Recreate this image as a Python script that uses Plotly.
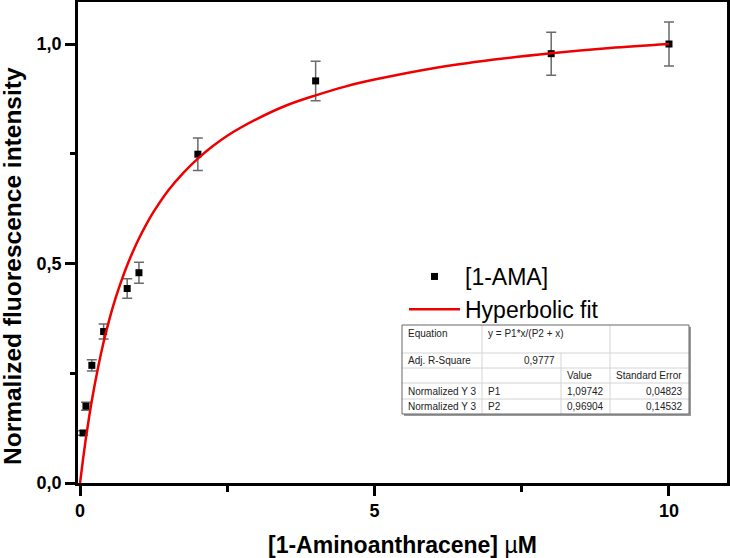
import plotly.graph_objects as go

# --- data ---
conc_um = [0.05, 0.1, 0.2, 0.4, 0.8, 1.0, 2.0, 4.0, 8.0, 10.0]
norm_intensity = [0.114, 0.175, 0.268, 0.345, 0.443, 0.479, 0.749, 0.916, 0.978, 1.0]
norm_err = [0.005, 0.009, 0.013, 0.017, 0.022, 0.024, 0.037, 0.045, 0.049, 0.05]

# hyperbolic fit curve as drawn in the picture
fit_x = [0, 0.05, 0.1, 0.15, 0.2, 0.3, 0.4, 0.5, 0.6, 0.7, 0.8, 0.9, 1.0, 1.1,
         1.25, 1.5, 1.75, 2.0, 2.25, 2.5, 3.0, 3.5, 4.0, 4.5, 5.0, 6.0, 7.0,
         8.0, 9.0, 10.0]
fit_y = [0, 0.054, 0.103, 0.147, 0.188, 0.259, 0.321, 0.374, 0.420, 0.460,
         0.496, 0.528, 0.557, 0.583, 0.618, 0.667, 0.706, 0.739, 0.767, 0.791,
         0.829, 0.860, 0.883, 0.903, 0.919, 0.945, 0.964, 0.979, 0.991, 1.0]

x_ticks = [0, 5, 10]
y_ticks = [0.0, 0.5, 1.0]

# fit result table (Origin style)
table_rows = [
    ["Equation", "y = P1*x/(P2 + x)", "", ""],
    ["Adj. R-Square", "0,9777", "", ""],
    ["", "", "Value", "Standard Error"],
    ["Normalized Y 3", "P1", "1,09742", "0,04823"],
    ["Normalized Y 3", "P2", "0,96904", "0,14532"],
]

FONT = "Liberation Sans, Arial, sans-serif"
W, H = 730, 558
L, R, T, B = 78, 3, 2, 75
PW, PH = W - L - R, H - T - B


def px(xp):
    return (xp - L) / PW


def py(yp):
    return (H - B - yp) / PH


fig = go.Figure()

fig.add_trace(go.Scatter(
    x=conc_um, y=norm_intensity, mode="markers", name="[1-AMA]",
    marker=dict(symbol="square", size=7, color="black"),
    error_y=dict(type="data", array=norm_err, color="#6a6a6a",
                 thickness=1.5, width=5),
))
fig.add_trace(go.Scatter(
    x=fit_x, y=fit_y, mode="lines", name="Hyperbolic fit",
    line=dict(color="#ee0000", width=2.5, shape="spline", smoothing=1.0),
))

# --- fit table drawn with shapes + annotations ---
col_edges = [402, 482, 561, 610, 689]
row_edges = [325, 353, 368, 383, 399, 414]
shapes = []
annotations = []

# shadow + background
shapes.append(dict(type="rect", xref="paper", yref="paper",
                   x0=px(col_edges[0] + 2), x1=px(col_edges[-1] + 2),
                   y0=py(row_edges[0] + 2), y1=py(row_edges[-1] + 2),
                   fillcolor="#9a9a9a", line=dict(width=0), layer="above"))
shapes.append(dict(type="rect", xref="paper", yref="paper",
                   x0=px(col_edges[0]), x1=px(col_edges[-1]),
                   y0=py(row_edges[0]), y1=py(row_edges[-1]),
                   fillcolor="white", line=dict(width=0), layer="above"))
# inner horizontal lines
for yy in row_edges[1:-1]:
    shapes.append(dict(type="line", xref="paper", yref="paper",
                       x0=px(col_edges[0]), x1=px(col_edges[-1]),
                       y0=py(yy), y1=py(yy),
                       line=dict(color="#d4d4d4", width=1), layer="above"))
# inner vertical lines (col 2/3 merged in first row)
for i, xx in enumerate(col_edges[1:-1]):
    top = row_edges[1] if i == 1 else row_edges[0]
    shapes.append(dict(type="line", xref="paper", yref="paper",
                       x0=px(xx), x1=px(xx), y0=py(top), y1=py(row_edges[-1]),
                       line=dict(color="#d4d4d4", width=1), layer="above"))
# outer border
shapes.append(dict(type="rect", xref="paper", yref="paper",
                   x0=px(col_edges[0]), x1=px(col_edges[-1]),
                   y0=py(row_edges[0]), y1=py(row_edges[-1]),
                   line=dict(color="#666666", width=1), layer="above"))

for r, row in enumerate(table_rows):
    if r == 0:
        yc = row_edges[0] + 8
    else:
        yc = (row_edges[r] + row_edges[r + 1]) / 2
    for c, txt in enumerate(row):
        if not txt:
            continue
        numeric = txt[0].isdigit()
        if numeric:
            xpos, anchor = col_edges[c + 1] - 4, "right"
        else:
            xpos, anchor = col_edges[c] + 4, "left"
        annotations.append(dict(
            text=txt, xref="paper", yref="paper", x=px(xpos), y=py(yc),
            xanchor=anchor, yanchor="middle", showarrow=False,
            font=dict(family=FONT, size=10, color="#222222"),
        ))

# axis titles as annotations so they sit where the original has them
annotations.append(dict(
    text="Normalized fluorescence intensity", textangle=-90,
    xref="paper", yref="paper", x=px(12), y=py(266),
    xanchor="center", yanchor="middle", showarrow=False,
    font=dict(family=FONT, size=24.5, color="black", weight="bold"),
))
annotations.append(dict(
    text="[1-Aminoanthracene] <span style='font-weight:normal'>µ</span>M",
    xref="paper", yref="paper", x=px(402), y=py(545),
    xanchor="center", yanchor="middle", showarrow=False,
    font=dict(family=FONT, size=23, color="black", weight="bold"),
))

axis_common = dict(
    showline=True, linecolor="black", linewidth=2.5, mirror=True,
    showgrid=False, zeroline=False, ticks="outside", ticklen=10,
    tickwidth=2.5, tickcolor="black", automargin=False,
    tickfont=dict(family=FONT, size=18, color="black", weight="bold"),
)

fig.update_xaxes(
    range=[-0.035, 10.985], tickvals=x_ticks,
    minor=dict(tickvals=[2.5, 7.5], ticks="outside", ticklen=6,
               tickwidth=2.5, tickcolor="black"),
    **axis_common,
)
fig.update_yaxes(
    range=[0, 1.0957], tickvals=y_ticks, tickformat=".1f",
    minor=dict(tickvals=[0.25, 0.75], ticks="outside", ticklen=5,
               tickwidth=2.5, tickcolor="black"),
    **axis_common,
)

fig.update_layout(
    width=W, height=H,
    margin=dict(l=L, r=R, t=T, b=B, autoexpand=False),
    paper_bgcolor="white", plot_bgcolor="white",
    separators=", ",
    showlegend=True,
    legend=dict(x=px(404), y=py(255), xanchor="left", yanchor="top",
                bgcolor="rgba(0,0,0,0)", itemwidth=51, tracegroupgap=0,
                font=dict(family=FONT, size=23, color="black")),
    shapes=shapes,
    annotations=annotations,
)

# the page's default 8px body margin would push the figure off the window
fig.write_html("out.html", config={"displayModeBar": False},
               post_script="document.body.style.margin = '0px';")
